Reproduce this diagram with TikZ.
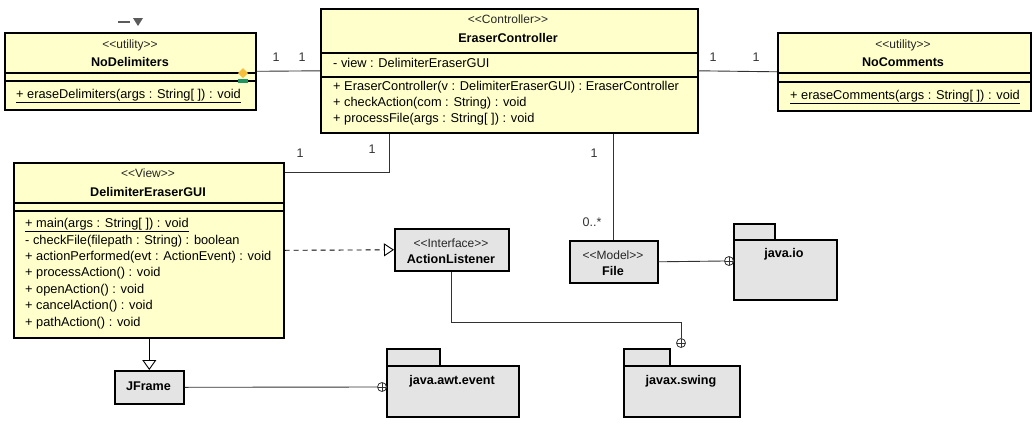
\documentclass[tikz,border=0pt]{standalone}
\usepackage{fontspec}
\newfontfamily\umlfont{Liberation Sans}
\usetikzlibrary{arrows.meta}
\definecolor{clsfill}{RGB}{255,255,204}
\definecolor{pkgfill}{RGB}{228,228,228}
\definecolor{linec}{RGB}{50,50,50}
\definecolor{dmd}{RGB}{245,190,60}
\definecolor{grn}{RGB}{30,150,100}
\begin{document}
\begin{tikzpicture}[x=1pt,y=-1pt,
  box/.style={draw=black, line width=1.6pt, inner sep=0pt, anchor=north west},
  cls/.style={box, fill=clsfill},
  gry/.style={box, fill=pkgfill},
  st/.style={font=\umlfont\fontsize{12}{14}\selectfont, text=black!85, inner sep=0pt},
  nm/.style={font=\umlfont\fontsize{12.6}{14}\selectfont\bfseries, inner sep=0pt},
  mb/.style={font=\umlfont\fontsize{12.8}{14}\selectfont, inner sep=0pt, anchor=west},
  div/.style={line width=1.2pt},
  conn/.style={draw=linec, line width=0.9pt},
  mult/.style={font=\umlfont\fontsize{12.5}{14}\selectfont, text=black!80, inner sep=0pt},
  nest/.style={circle, draw=linec, line width=0.8pt, minimum size=9pt, inner sep=0pt, fill=white,
    path picture={\draw[linec,line width=0.8pt] (path picture bounding box.north) -- (path picture bounding box.south) (path picture bounding box.west) -- (path picture bounding box.east);}}
]
\useasboundingbox (0,0) rectangle (1034,426);

% ---------- NoDelimiters ----------
\node[cls, minimum width=251pt, minimum height=77pt] (nd) at (4,32) {};
\draw[div] (4,73) -- (255,73);
\draw[div] (4,81) -- (255,81);
\node[st] (ndst) at (130,45) {<<utility>>};
\node[nm] (ndnm) at (130,62) {NoDelimiters};
\node[mb] (ndm1) at (16,96) {\underline{+ eraseDelimiters(args : String[ ]) : void}};
\fill[dmd] (243,68) -- (248,73) -- (243,78) -- (238,73) -- cycle;
\fill[grn] (238,79) rectangle (248,83);
\draw[linec!80, line width=2pt] (118,22) -- (130,22);
\fill[linec!80] (133,18) -- (143,18) -- (138,26) -- cycle;

% ---------- EraserController ----------
\node[cls, minimum width=377pt, minimum height=124pt] (ec) at (320,8) {};
\draw[div] (320,53) -- (697,53);
\draw[div] (320,77) -- (697,77);
\node[st] (ecst) at (508,19) {<<Controller>>};
\node[nm] (ecnm) at (508,38) {EraserController};
\node[mb] (eca1) at (333,63) {- view : DelimiterEraserGUI};
\node[mb] (ecm1) at (333,87) {+ EraserController(v : DelimiterEraserGUI) : EraserController};
\node[mb] (ecm2) at (333,103) {+ checkAction(com : String) : void};
\node[mb] (ecm3) at (333,119) {+ processFile(args : String[ ]) : void};

% ---------- NoComments ----------
\node[cls, minimum width=253pt, minimum height=78pt] (nc) at (777,32) {};
\draw[div] (777,73) -- (1030,73);
\draw[div] (777,82) -- (1030,82);
\node[st] (ncst) at (903,45) {<<utility>>};
\node[nm] (ncnm) at (903,62) {NoComments};
\node[mb] (ncm1) at (790,97) {\underline{+ eraseComments(args : String[ ]) : void}};

% ---------- DelimiterEraserGUI ----------
\node[cls, minimum width=270pt, minimum height=175pt] (gui) at (13,162) {};
\draw[div] (13,203) -- (283,203);
\draw[div] (13,211) -- (283,211);
\node[st] (guist) at (148,173) {<<View>>};
\node[nm] (guinm) at (148,192) {DelimiterEraserGUI};
\node[mb] (guim1) at (25,225) {\underline{+ main(args : String[ ]) : void}};
\node[mb] (guim2) at (25,241) {- checkFile(filepath : String) : boolean};
\node[mb] (guim3) at (25,257) {+ actionPerformed(evt : ActionEvent) : void};
\node[mb] (guim4) at (25,273) {+ processAction() : void};
\node[mb] (guim5) at (25,290) {+ openAction() : void};
\node[mb] (guim6) at (25,306) {+ cancelAction() : void};
\node[mb] (guim7) at (25,323) {+ pathAction() : void};

% ---------- ActionListener ----------
\node[gry, minimum width=114pt, minimum height=42pt] (al) at (394,228) {};
\node[st] (alst) at (451,243) {<<Interface>>};
\node[nm] (alnm) at (451,259) {ActionListener};

% ---------- File ----------
\node[gry, minimum width=88pt, minimum height=42pt] (file) at (569,240) {};
\node[st] (filest) at (613,255) {<<Model>>};
\node[nm] (filenm) at (613,271) {File};

% ---------- JFrame ----------
\node[gry, minimum width=69pt, minimum height=33pt] (jf) at (114,370) {};
\node[nm] (jfnm) at (148.5,386) {JFrame};

% ---------- packages ----------
\node[gry, minimum width=53pt, minimum height=17pt] (aettab) at (386,348) {};
\node[gry, minimum width=132pt, minimum height=51pt] (aet) at (386,365) {};
\node[nm] (aetnm) at (452,381) {java.awt.event};

\node[gry, minimum width=46pt, minimum height=17pt] (swtab) at (623,348) {};
\node[gry, minimum width=116pt, minimum height=51pt] (sw) at (623,365) {};
\node[nm] (swnm) at (681,381) {javax.swing};

\node[gry, minimum width=41pt, minimum height=16pt] (iotab) at (733,223) {};
\node[gry, minimum width=103pt, minimum height=60pt] (io) at (733,239) {};
\node[nm] (ionm) at (784,254) {java.io};

% ---------- nesting symbols ----------
\node[nest] (n1) at (382,387) {};
\node[nest] (n2) at (681,343) {};
\node[nest] (n3) at (729,261) {};

% ---------- connectors ----------
\draw[conn] (nd.east) -- (ec.west);
\node[mult] (m1) at (276,57) {1};
\node[mult] (m2) at (302,57) {1};

\draw[conn] (ec.east) -- (nc.west);
\node[mult] (m3) at (713,57) {1};
\node[mult] (m4) at (756,57) {1};

\draw[conn] (ec.south west -| 389,0) |- (gui.north east |- 0,172);
\node[mult] (m5) at (300,153) {1};
\node[mult] (m6) at (372,149) {1};

\draw[conn] (file.north |- ec.south) -- (file.north);
\node[mult] (m7) at (594,153) {1};
\node[mult] (m8) at (592,222) {0..*};

\draw[black, line width=0.9pt, dash pattern=on 5pt off 4pt, -{Triangle[open, length=10pt, width=13pt, line width=0.9pt]}] (gui.east) -- (al.west);

\draw[black, line width=0.9pt, -{Triangle[open, length=10pt, width=14pt, line width=0.9pt]}] (gui.south -| jf.north) -- (jf.north);

\draw[conn] (jf.east) -- (n1.west);
\draw[conn] (al.south) -- (al.south |- 0,322) -- (n2.north |- 0,322) -- (n2.north);
\draw[conn] (file.east) -- (n3.west);
\end{tikzpicture}
\end{document}
